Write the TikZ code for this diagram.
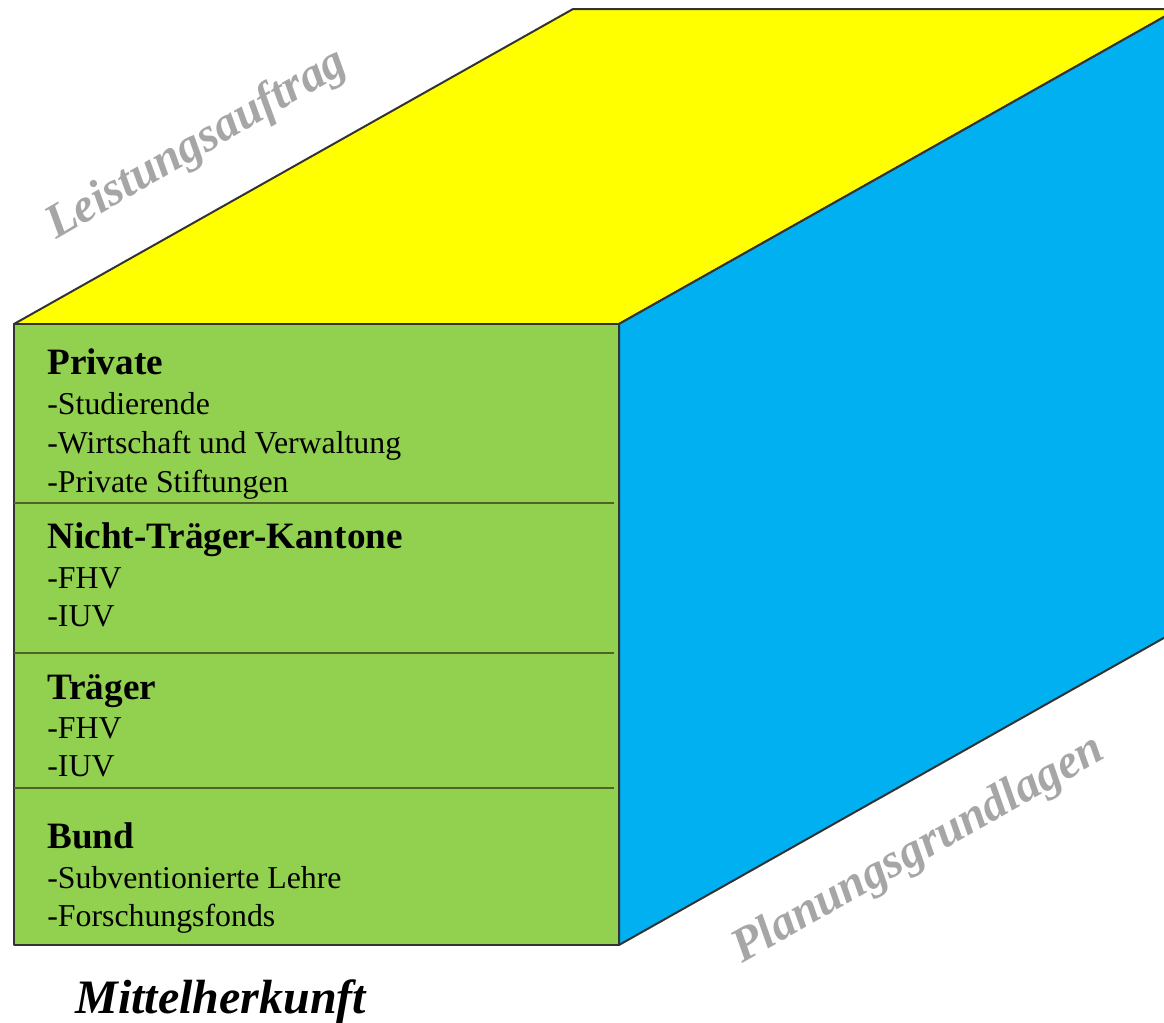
\documentclass[tikz,border=0pt]{standalone}
\usepackage{fontspec}
\setmainfont{Liberation Serif}
\usepackage{tikz}

\definecolor{topyellow}{HTML}{FFFF00}
\definecolor{sideblue}{HTML}{00B0F0}
\definecolor{frontgreen}{HTML}{92D050}
\definecolor{labelgray}{HTML}{A6A6A6}
\definecolor{rulegreen}{HTML}{4F6228}

\begin{document}
\begin{tikzpicture}[
    x                 = 0.5pt,
    y                 = -0.5pt,
    face/.style       = {draw=black!80, line width=1pt, line join=round},
    divider/.style    = {draw=rulegreen, line width=1pt},
    head/.style       = {anchor=base west, inner sep=0pt, font=\fontsize{18.6}{22}\selectfont\bfseries},
    item/.style       = {anchor=base west, inner sep=0pt, font=\fontsize{15.9}{19}\selectfont},
    dimlabel/.style   = {anchor=base west, inner sep=0pt, text=labelgray,
                         font=\fontsize{24}{28}\selectfont\bfseries\itshape}
  ]
\useasboundingbox (0,0) rectangle (1164,1023);
\clip (0,0) rectangle (1164,1023);

% corners of the cube
\coordinate (fnw) at (14,324);
\coordinate (fne) at (619,324);
\coordinate (fse) at (619,945);
\coordinate (fsw) at (14,945);
\coordinate (bnw) at (573,9);
\coordinate (bne) at (1178,9);
\coordinate (bse) at (1178,630);

\draw[face, fill=topyellow] (fnw) -- (bnw) -- (bne) -- (fne) -- cycle;
\draw[face, fill=sideblue] (fne) -- (bne) -- (bse) -- (fse) -- cycle;
\draw[face, fill=frontgreen] (fnw) rectangle (fse);

% rows of the front face
\foreach \y in {503,652.5,787.5}
  \draw[divider] (14,\y) -- (614,\y);

\node[head] (private)   at (47,374) {Private};
\node[item] (private1)  at (47,414) {-Studierende};
\node[item] (private2)  at (47,453) {-Wirtschaft und Verwaltung};
\node[item] (private3)  at (47,492) {-Private Stiftungen};

\node[head] (nichttr)   at (47,548) {Nicht-Träger-Kantone};
\node[item] (nichttr1)  at (47,588) {-FHV};
\node[item] (nichttr2)  at (47,626) {-IUV};

\node[head] (traeger)   at (47,699) {Träger};
\node[item] (traeger1)  at (47,738) {-FHV};
\node[item] (traeger2)  at (47,776) {-IUV};

\node[head] (bund)      at (47,848) {Bund};
\node[item] (bund1)     at (47,888) {-Subventionierte Lehre};
\node[item] (bund2)     at (47,926) {-Forschungsfonds};

% axis labels
\node[dimlabel, rotate=30]   (leistung) at (56,240) {Leistungsauftrag};
\node[dimlabel, rotate=29.5] (planung)  at (742,964) {Planungsgrundlagen};
\node[anchor=base west, inner sep=0pt, font=\fontsize{24}{28}\selectfont\bfseries\itshape]
  (mittel) at (75,1013) {Mittelherkunft};

\end{tikzpicture}
\end{document}
